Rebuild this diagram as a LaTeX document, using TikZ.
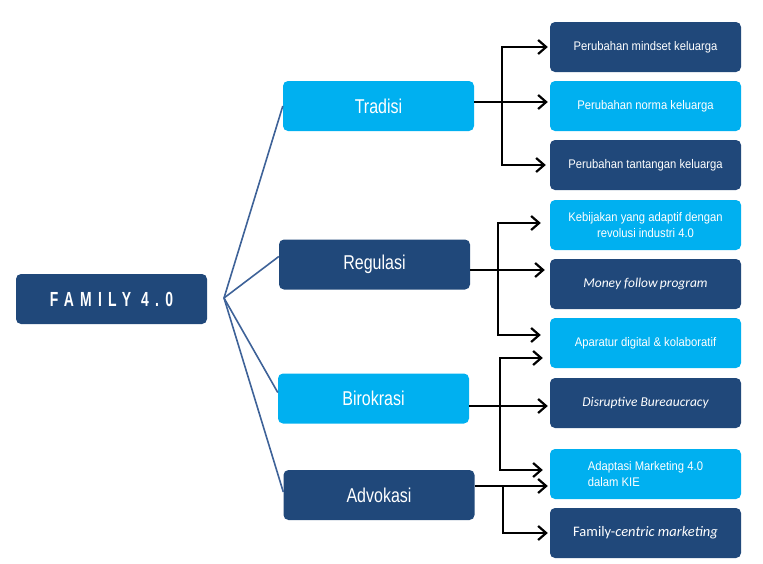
\documentclass[tikz,border=0pt]{standalone}
\usepackage{fontspec}
\setmainfont{Liberation Sans}
\newfontfamily\carlito{Carlito}
\newfontfamily\leaffont[FakeStretch=0.9]{Liberation Sans}
\newfontfamily\midfont[FakeStretch=0.8]{Liberation Sans}
\newfontfamily\famfont[LetterSpace=45]{Liberation Sans}
\usetikzlibrary{arrows.meta}

\definecolor{famdark}{RGB}{32,72,122}
\definecolor{famlight}{RGB}{0,176,240}
\definecolor{famspoke}{RGB}{62,98,152}

\begin{document}
\begin{tikzpicture}[x=1pt,y=-1pt,>={Straight Barb[length=8pt,width=14pt]}]
    \tikzset{box/.style={rounded corners=5pt,minimum width=191pt,minimum height=50pt,inner sep=0pt,text=white,align=center},
      dark/.style={box,fill=famdark},
      light/.style={box,fill=famlight},
      midtext/.style={font=\midfont\fontsize{20}{22}\selectfont},
      leaftext/.style={font=\leaffont\fontsize{12.5}{16}\selectfont},
      spoke/.style={draw=famspoke,line width=1.6pt},
      link/.style={draw=black,line width=2.2pt,shorten >=2pt}}
    \useasboundingbox (0,0) rectangle (763,563);
    % root and main branches
    \node[dark,font=\famfont\bfseries\fontsize{17}{20}\selectfont] (F) at (111.5,299) {\scalebox{0.82}[1.2]{FAMILY 4.0}};
    \node[light,midtext] (T) at (378.5,106) {Tradisi};
    \node[dark,midtext] (R) at (374.5,264.5) {Regulasi};
    \node[light,midtext] (B) at (373.5,398.5) {Birokrasi};
    \node[dark,midtext] (A) at (379,495) {Advokasi};
    % leaves
    \node[dark,leaftext] (L_1) at (645.5,47) {Perubahan mindset keluarga};
    \node[light,leaftext] (L_2) at (645.5,106) {Perubahan norma keluarga};
    \node[dark,leaftext] (L_3) at (645.5,165) {Perubahan tantangan keluarga};
    \node[light,leaftext] (L_4) at (645.5,225) {Kebijakan yang adaptif dengan\\revolusi industri 4.0};
    \node[dark,font=\carlito\itshape\fontsize{13.5}{16}\selectfont] (L_5) at (645.5,284) {Money follow\,program};
    \node[light,leaftext] (L_6) at (645.5,343) {Aparatur digital \& kolaboratif};
    \node[dark,font=\carlito\itshape\fontsize{13.5}{16}\selectfont] (L_7) at (645.5,403) {Disruptive Bureaucracy};
    \node[light,leaftext,align=left] (L_8) at (645.5,474) {Adaptasi Marketing 4.0\\dalam KIE};
    \node[dark,font=\carlito\fontsize{14.5}{16}\selectfont] (L_9) at (645.5,533) {Family-\textit{centric marketing}};
    % spokes from the root
    \coordinate (F_hub) at (224,298);
    \draw[spoke] (F_hub) -- (T.west);
    \draw[spoke] (F_hub) -- ([yshift=8pt]R.west);
    \draw[spoke] (F_hub) -- ([yshift=6pt]B.west);
    \draw[spoke] (F_hub) -- ([yshift=3pt]A.west);
    % Tradisi
    \coordinate (T_j) at (502,102);
    \draw[link,->] ([yshift=4pt]T.east) -- ([yshift=4pt]L_2.west);
    \draw[link,->] (T_j) |- (L_1.west);
    \draw[link,->,shorten >=4pt] (T_j) |- (L_3.west);
    % Regulasi
    \coordinate (R_j) at (498,270);
    \draw[link,->,shorten >=5pt] ([yshift=-5.5pt]R.east) -- ([yshift=14pt]L_5.west);
    \draw[link,->,shorten >=9pt] (R_j) |- ([yshift=2pt]L_4.west);
    \draw[link,->,shorten >=9pt] (R_j) |- ([yshift=8pt]L_6.west);
    % Birokrasi
    \coordinate (B_j) at (500,406);
    \draw[link,->] ([yshift=-7.5pt]B.east) -- ([yshift=-3pt]L_7.west);
    \draw[link,->,shorten >=7pt] (B_j) |- ([yshift=-15pt]L_6.west);
    \draw[link,->,shorten >=7pt] (B_j) |- ([yshift=4pt]L_8.west);
    % Advokasi
    \coordinate (A_j) at (503,486);
    \draw[link,->] ([yshift=9pt]A.east) -- ([yshift=-12pt]L_8.west);
    \draw[link,->] (A_j) |- (L_9.west);
  \end{tikzpicture}
\end{document}
